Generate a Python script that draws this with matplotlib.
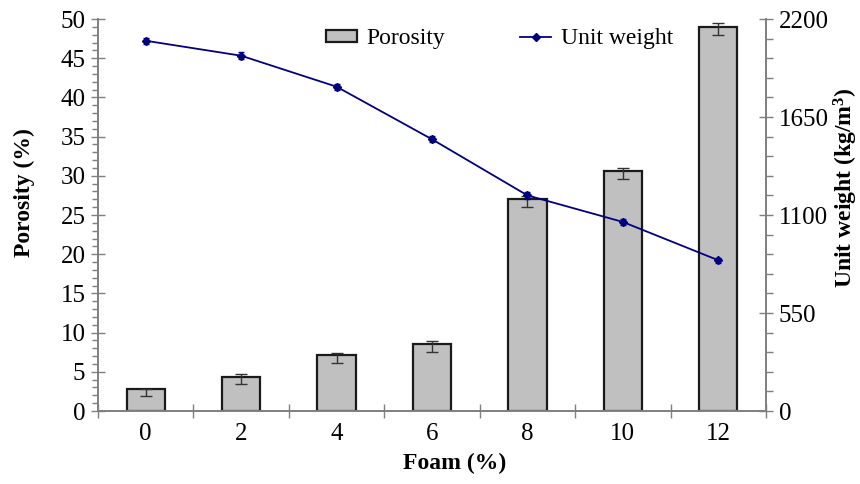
import matplotlib.pyplot as plt
import numpy as np
from matplotlib.ticker import MultipleLocator, FixedLocator
from matplotlib.lines import Line2D
from matplotlib.patches import Patch

plt.rcParams['font.family'] = ['Liberation Serif', 'DejaVu Serif']
plt.rcParams['mathtext.fontset'] = 'custom'
plt.rcParams['mathtext.rm'] = 'Liberation Serif'
plt.rcParams['mathtext.bf'] = 'Liberation Serif:bold'

# data
foam = ["0", "2", "4", "6", "8", "10", "12"]
porosity = [2.8, 4.4, 7.1, 8.55, 27.0, 30.55, 49.0]
por_err_low = [0.95, 1.0, 0.95, 1.0, 1.0, 1.0, 1.0]
por_err_up = [0.05, 0.3, 0.25, 0.35, 0.45, 0.5, 0.47]
unit_weight = [2078, 1994, 1820, 1525, 1210, 1061, 846]
uw_err = [18, 18, 18, 18, 18, 15, 15]

gray = "#7f7f7f"
navy = "#000080"
x = np.arange(len(foam))

fig = plt.figure(figsize=(8.6, 4.84), dpi=100)
ax = fig.add_axes([98/860, 1 - 411/484, (766-98)/860, (411-19)/484])
ax2 = ax.twinx()

ax.bar(x, porosity, width=0.4, color="#c0c0c0", edgecolor="#1a1a1a",
       linewidth=1.6, zorder=2)
ax.errorbar(x, porosity, yerr=[por_err_low, por_err_up], fmt="none",
            ecolor="#333333", elinewidth=1.0, capsize=4, capthick=1.0, zorder=3)

ax2.errorbar(x, unit_weight, yerr=uw_err, color=navy, marker="D",
             markersize=4.5, linewidth=1.3, ecolor=navy, elinewidth=0.8,
             capsize=2.5)

ax.set_xlim(-0.5, 6.5)
ax.set_ylim(0, 50)
ax2.set_ylim(0, 2200)

ax.set_xticks(x)
ax.set_xticklabels(foam)
ax.xaxis.set_minor_locator(FixedLocator(np.arange(-0.5, 7, 1)))
ax.tick_params(axis="x", which="major", length=0, pad=9, labelsize=18)
ax.tick_params(axis="x", which="minor", direction="inout", length=10,
               color=gray, width=1.0)

ax.set_yticks(np.arange(0, 51, 5))
ax.yaxis.set_minor_locator(MultipleLocator(1))
ax.tick_params(axis="y", which="major", direction="inout", length=10,
               color=gray, width=1.0, labelsize=18, pad=4)
ax.tick_params(axis="y", which="minor", direction="out", length=4,
               color=gray, width=1.0)

ax2.set_yticks([0, 550, 1100, 1650, 2200])
ax2.yaxis.set_minor_locator(MultipleLocator(110))
ax2.tick_params(axis="y", which="major", direction="inout", length=10,
                color=gray, width=1.0, labelsize=18, pad=4)
ax2.tick_params(axis="y", which="minor", direction="out", length=5,
                color=gray, width=1.0)

for a in (ax, ax2):
    a.spines["top"].set_visible(False)
    for s in ("left", "right", "bottom"):
        a.spines[s].set_color(gray)
        a.spines[s].set_linewidth(1.2)

ax.set_xlabel("Foam (%)", fontsize=17, fontweight="bold")
ax.xaxis.set_label_coords(0.534, -0.108)
ax.set_ylabel("Porosity (%)", fontsize=17, fontweight="bold")
ax.yaxis.set_label_coords(-0.095, 0.556)
ax2.set_ylabel(r"Unit weight (kg/m$\mathbf{^3}$)", fontsize=17,
               fontweight="bold")
ax2.yaxis.set_label_coords(1.099, 0.569)

handles = [Patch(facecolor="#c0c0c0", edgecolor="#1a1a1a", linewidth=1.6),
           Line2D([], [], color=navy, marker="D", markersize=4, linewidth=1.3)]
ax.legend(handles, ["Porosity", "Unit weight"], loc="upper center",
          bbox_to_anchor=(0.601, 1.03), ncol=2, frameon=False, fontsize=17,
          columnspacing=3.2, handlelength=1.3, handleheight=0.35,
          handletextpad=0.4)

ax.set_zorder(ax2.get_zorder() - 1)
ax2.patch.set_visible(False)
ax.patch.set_visible(True)

fig.savefig("out.png", dpi=100)
